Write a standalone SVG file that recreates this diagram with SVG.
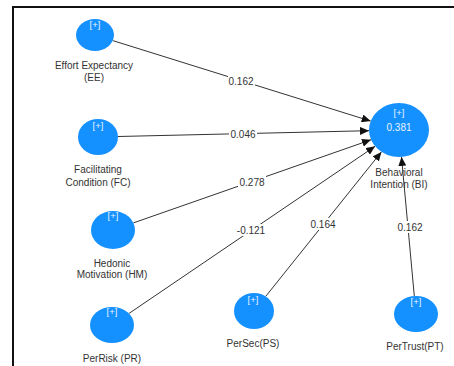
<svg xmlns="http://www.w3.org/2000/svg" width="454" height="366" viewBox="0 0 454 366">
<style>
  .node { fill: #1590ff; }
  .plus { fill: #e8f2ff; font-family: "Liberation Sans", Arial, sans-serif; font-size: 9.5px; text-anchor: middle; }
  .r2 { fill: #e8f2ff; font-family: "Liberation Sans", Arial, sans-serif; font-size: 10px; text-anchor: middle; }
  .lbl { fill: #333333; font-family: "Liberation Sans", Arial, sans-serif; font-size: 10px; text-anchor: middle; }
  .edge { stroke: #333333; stroke-width: 1; fill: none; marker-end: url(#arr); }
  .w { fill: #ffffff; }
  .coef { fill: #333333; font-family: "Liberation Sans", Arial, sans-serif; font-size: 10px; text-anchor: middle; }
</style>
<defs>
  <marker id="arr" markerUnits="userSpaceOnUse" markerWidth="9" markerHeight="8" refX="9" refY="4" orient="auto">
    <path d="M0,0 L9,4 L0,8 z" fill="#111111"/>
  </marker>
</defs>
<rect x="0" y="0" width="454" height="366" fill="#ffffff"/>
<path d="M13,366 V7 H454" stroke="#111111" stroke-width="2" fill="none"/>

<g id="connectors">
  <line class="edge" x1="112.8" y1="40.6" x2="370.7" y2="121.1"/>
  <line class="edge" x1="118" y1="136.5" x2="369" y2="130.7"/>
  <line class="edge" x1="133.4" y1="222.9" x2="371" y2="139.8"/>
  <line class="edge" x1="128.9" y1="313.5" x2="375.1" y2="146.3"/>
  <line class="edge" x1="265.7" y1="296.4" x2="381.4" y2="151.9"/>
  <line class="edge" x1="414.3" y1="296" x2="401.5" y2="156.9"/>
  <rect class="w" x="228" y="75" width="27" height="12"/>
  <text class="coef" x="241" y="84.5">0.162</text>
  <rect class="w" x="229" y="128" width="28" height="12"/>
  <text class="coef" x="243" y="137.5">0.046</text>
  <rect class="w" x="238" y="176" width="28" height="12"/>
  <text class="coef" x="252" y="185.5">0.278</text>
  <rect class="w" x="235" y="224" width="32" height="12"/>
  <text class="coef" x="251" y="233.5">-0.121</text>
  <rect class="w" x="309" y="218" width="28" height="12"/>
  <text class="coef" x="323" y="227.5">0.164</text>
  <rect class="w" x="396" y="221" width="28" height="12"/>
  <text class="coef" x="410" y="230.5">0.162</text>
</g>

<g id="EE">
  <ellipse class="node" cx="95" cy="35" rx="19" ry="16"/>
  <text class="plus" x="95" y="28">[+]</text>
  <text class="lbl" x="94" y="68.5">Effort Expectancy</text>
  <text class="lbl" x="94" y="80.5">(EE)</text>
</g>
<g id="FC">
  <ellipse class="node" cx="98" cy="137" rx="20" ry="18"/>
  <text class="plus" x="98" y="129">[+]</text>
  <text class="lbl" x="98" y="172.5">Facilitating</text>
  <text class="lbl" x="98" y="185.5">Condition (FC)</text>
</g>
<g id="HM">
  <ellipse class="node" cx="113" cy="230" rx="22" ry="19"/>
  <text class="plus" x="113" y="219">[+]</text>
  <text class="lbl" x="112" y="266.5">Hedonic</text>
  <text class="lbl" x="112" y="277.5">Motivation (HM)</text>
</g>
<g id="PR">
  <ellipse class="node" cx="112" cy="325" rx="22" ry="18"/>
  <text class="plus" x="112" y="315">[+]</text>
  <text class="lbl" x="112" y="361.5">PerRisk (PR)</text>
</g>
<g id="PS">
  <ellipse class="node" cx="254" cy="311" rx="20" ry="18"/>
  <text class="plus" x="253" y="303">[+]</text>
  <text class="lbl" x="253" y="346.5">PerSec(PS)</text>
</g>
<g id="PT">
  <ellipse class="node" cx="416" cy="314" rx="22" ry="18"/>
  <text class="plus" x="416" y="305">[+]</text>
  <text class="lbl" x="415" y="349.5">PerTrust(PT)</text>
</g>
<g id="BI">
  <ellipse class="node" cx="399" cy="130" rx="30" ry="27"/>
  <text class="plus" x="399" y="116">[+]</text>
  <text class="r2" x="399" y="130.5">0.381</text>
  <text class="lbl" x="399" y="175.5">Behavioral</text>
  <text class="lbl" x="399" y="187.5">Intention (BI)</text>
</g>
</svg>
